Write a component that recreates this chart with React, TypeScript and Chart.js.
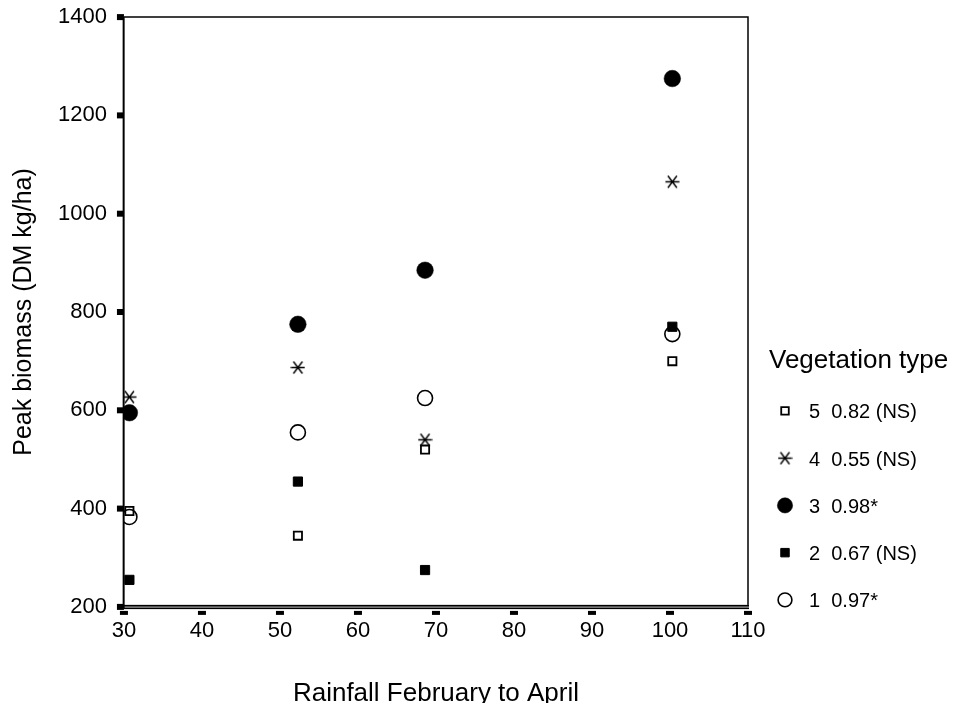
import React, { useEffect, useRef } from 'react';
import { Chart, registerables } from 'chart.js';
import { drawPoint } from 'chart.js/helpers';

Chart.register(...registerables);

// ---- data ----
const rainfall = [30.7, 52.3, 68.6, 100.3];
const type1 = [383, 555, 625, 755];
const type2 = [255, 455, 275, 770];
const type3 = [595, 775, 885, 1275];
const type4 = [627, 687, 540, 1065];
const type5 = [395, 345, 520, 700];

const label1 = '1  0.97*';
const label2 = '2  0.67 (NS)';
const label3 = '3  0.98*';
const label4 = '4  0.55 (NS)';
const label5 = '5  0.82 (NS)';

const legendTitle = 'Vegetation type';
const xTitle = 'Rainfall February to April';
const yTitle = 'Peak biomass (DM kg/ha)';

const xMin = 30, xMax = 110, xStep = 10;
const yMin = 200, yMax = 1400, yStep = 200;

const FONT = "'Liberation Sans', Arial, Helvetica, sans-serif";

function makeStar(): HTMLCanvasElement {
  const size = 15;
  const c = document.createElement('canvas');
  c.width = size;
  c.height = size;
  const g = c.getContext('2d')!;
  g.strokeStyle = '#000';
  g.lineWidth = 1.4;
  const m = size / 2;
  g.beginPath();
  g.moveTo(0.5, m);
  g.lineTo(size - 0.5, m);
  g.moveTo(m - 4.5, m - 6);
  g.lineTo(m + 4.5, m + 6);
  g.moveTo(m + 4.5, m - 6);
  g.lineTo(m - 4.5, m + 6);
  g.stroke();
  return c;
}

const toPoints = (ys: number[]) => rainfall.map((x, i) => ({ x, y: ys[i] }));

const framePlugin = {
  id: 'frameTicks',
  beforeDatasetsDraw(chart: any) {
    const { ctx, chartArea } = chart;
    const { left, right, top, bottom } = chartArea;
    ctx.save();
    ctx.strokeStyle = '#000';
    ctx.lineWidth = 1.5;
    ctx.beginPath();
    ctx.moveTo(left, top);
    ctx.lineTo(right, top);
    ctx.lineTo(right, bottom);
    ctx.stroke();
    // bottom double line
    ctx.fillStyle = '#aaa';
    ctx.fillRect(left, bottom - 2, right - left + 1, 4);
    ctx.fillStyle = '#000';
    ctx.fillRect(left, bottom - 2, right - left + 1, 1.6);
    ctx.fillRect(left, bottom + 0.8, right - left + 1, 1.4);
    // left axis line
    ctx.fillRect(left - 1.3, top, 2, bottom - top + 2);
    // y tick marks
    const ys = chart.scales.y;
    ys.ticks.forEach((t: any) => {
      const py = ys.getPixelForValue(t.value);
      ctx.fillRect(left - 7, py - 3, 7, 6);
    });
    // x tick marks
    const xs = chart.scales.x;
    xs.ticks.forEach((t: any) => {
      const px = xs.getPixelForValue(t.value);
      ctx.fillRect(px - 4, bottom + 4, 8, 4);
    });
    ctx.restore();
  },
};

const legendPlugin = {
  id: 'sideLegend',
  afterDraw(chart: any) {
    const { ctx, chartArea } = chart;
    const { right, bottom } = chartArea;
    ctx.save();
    ctx.fillStyle = '#000';
    ctx.textBaseline = 'middle';
    ctx.textAlign = 'left';
    ctx.font = `26px ${FONT}`;
    ctx.fillText(legendTitle, right + 21, bottom - 246.5);
    const order = chart.options.plugins.sideLegend.order as number[];
    const step = 47.25;
    ctx.font = `20px ${FONT}`;
    order.forEach((dsIndex, i) => {
      const ds = chart.data.datasets[dsIndex];
      const cy = bottom - 5 - (order.length - 1 - i) * step;
      ctx.save();
      ctx.fillStyle = ds.pointBackgroundColor;
      ctx.strokeStyle = ds.pointBorderColor;
      ctx.lineWidth = ds.pointBorderWidth;
      drawPoint(ctx, {
        pointStyle: ds.pointStyle,
        radius: ds.pointRadius * 0.92,
        rotation: 0,
        borderWidth: ds.pointBorderWidth,
      } as any, right + 37, cy - 2);
      ctx.restore();
      ctx.fillStyle = '#000';
      ctx.fillText(ds.label, right + 61, cy);
    });
    ctx.restore();
  },
};

export default function App() {
  const ref = useRef<HTMLCanvasElement>(null);

  useEffect(() => {
    if (!ref.current) return;
    const star = makeStar();
    const chart = new Chart(ref.current, {
      type: 'scatter',
      data: {
        datasets: [
          {
            label: label1,
            data: toPoints(type1),
            pointStyle: 'circle',
            pointRadius: 7.5,
            pointBorderWidth: 1.6,
            pointBackgroundColor: 'rgba(255,255,255,0)',
            pointBorderColor: '#000',
          },
          {
            label: label4,
            data: toPoints(type4),
            pointStyle: star as any,
            pointRadius: 7.5,
            pointBorderWidth: 1,
            pointBackgroundColor: '#000',
            pointBorderColor: '#000',
          },
          {
            label: label3,
            data: toPoints(type3),
            pointStyle: 'circle',
            pointRadius: 8.3,
            pointBorderWidth: 0.5,
            pointBackgroundColor: '#000',
            pointBorderColor: '#000',
          },
          {
            label: label5,
            data: toPoints(type5),
            pointStyle: 'rect',
            pointRadius: 5.8,
            pointBorderWidth: 1.8,
            pointBackgroundColor: 'rgba(255,255,255,0)',
            pointBorderColor: '#000',
          },
          {
            label: label2,
            data: toPoints(type2),
            pointStyle: 'rect',
            pointRadius: 6.5,
            pointBorderWidth: 1,
            pointBackgroundColor: '#000',
            pointBorderColor: '#000',
          },
        ],
      },
      options: {
        animation: false,
        responsive: false,
        devicePixelRatio: 1,
        layout: { padding: { top: 0, left: 0, right: 208, bottom: 0 } },
        plugins: {
          legend: { display: false },
          tooltip: { enabled: false },
          // legend order: 5, 4, 3, 2, 1 (dataset indices)
          sideLegend: { order: [3, 1, 2, 4, 0] },
        } as any,
        scales: {
          x: {
            type: 'linear',
            min: xMin,
            max: xMax,
            ticks: {
              stepSize: xStep,
              padding: 0,
              color: '#000',
              font: { family: FONT, size: 22 },
              callback: (v: any) => String(v),
            },
            grid: {
              display: true,
              drawOnChartArea: false,
              drawTicks: true,
              tickLength: 11,
              tickColor: 'rgba(0,0,0,0)',
            },
            border: { display: false },
            title: {
              display: true,
              text: xTitle,
              color: '#000',
              font: { family: FONT, size: 26 },
              padding: { top: 33.5, bottom: 2 },
            },
          },
          y: {
            type: 'linear',
            min: yMin,
            max: yMax,
            ticks: {
              stepSize: yStep,
              padding: 0,
              color: '#000',
              font: { family: FONT, size: 22, lineHeight: 0.75 },
              callback: (v: any) => String(v),
            },
            grid: {
              display: true,
              drawOnChartArea: false,
              drawTicks: true,
              tickLength: 17,
              tickColor: 'rgba(0,0,0,0)',
            },
            border: { display: false },
            title: {
              display: true,
              text: yTitle,
              color: '#000',
              font: { family: FONT, size: 25 },
              padding: { top: 1, bottom: 19 },
            },
          },
        },
      },
      plugins: [framePlugin, legendPlugin],
    });
    return () => chart.destroy();
  }, []);

  return (
    <div style={{ width: 948, height: 695, overflow: 'hidden' }}>
      <canvas ref={ref} width={948} height={703} style={{ display: 'block' }} />
    </div>
  );
}
